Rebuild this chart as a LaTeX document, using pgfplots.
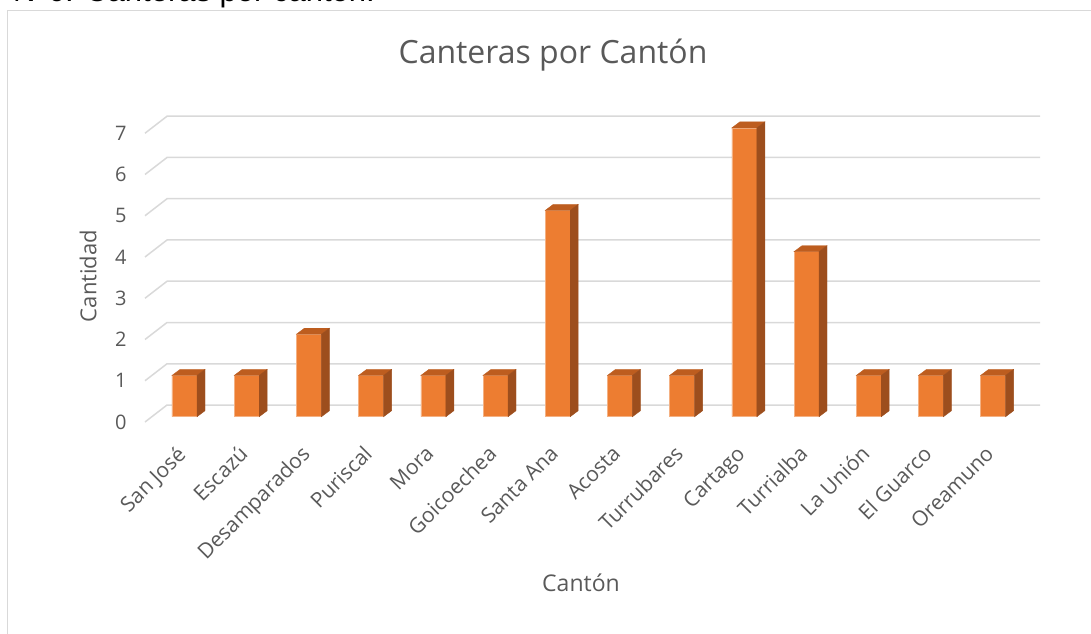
\documentclass[border=0pt]{standalone}
\usepackage{fontspec}
\setmainfont{Open Sans}
\newfontfamily\capfont{Liberation Sans}
\usepackage{pgfplots}
\pgfplotsset{compat=1.18}

\definecolor{txt}{HTML}{595959}
\definecolor{gridc}{HTML}{D9D9D9}
\definecolor{front}{HTML}{ED7D31}
\definecolor{topc}{HTML}{BD5D1F}
\definecolor{sidec}{HTML}{9D4E1D}
\definecolor{edgec}{HTML}{F4B183}

\pgfdeclareplotmark{empty}{}

\begin{document}
\begin{tikzpicture}[x=1pt,y=1pt]
\useasboundingbox (0,0) rectangle (1091,633);
% caption cut at the top of the page
\node[anchor=base west, inner sep=0pt, font=\capfont\fontsize{31}{36}\selectfont] at (13,631) {N°6. Canteras por cantón.};
% chart frame
\draw[gridc, line width=1.5pt] (7.5,622.5) -- (1100,622.5);
\draw[gridc, line width=1.5pt] (7.5,622.5) -- (7.5,-10);

\node[font=\fontsize{32}{38}\selectfont, text=txt] at (553,578) {Canteras por Cantón};
\node[font=\fontsize{22}{26}\selectfont, text=txt, rotate=90] at (88,357) {Cantidad};
\node[font=\fontsize{23}{27}\selectfont, text=txt] at (581,50) {Cantón};

\begin{axis}[
    at={(145pt,211pt)}, anchor=south west,
    scale only axis,
    width=895pt, height=308.5pt,
    xmin=-0.635, xmax=13.754,
    ymin=-0.128, ymax=7.35,
    clip=false,
    axis line style={draw=none},
    major tick length=0pt,
    xtick={0,...,13},
    xticklabels={San José, Escazú, Desamparados, Puriscal, Mora, Goicoechea, Santa Ana, Acosta, Turrubares, Cartago, Turrialba, La Unión, El Guarco, Oreamuno},
    xticklabel style={xshift=-9pt, yshift=-22pt, rotate=45, anchor=north east, inner sep=0pt,
        font=\fontsize{21}{25}\selectfont, text=txt},
    ytick={0,...,7},
    yticklabel shift=15pt,
    yticklabel style={yshift=-5.3pt, font=\fontsize{20}{24}\selectfont, text=txt},
    /pgf/number format/assume math mode=true,
]
% floor / wall gridlines
\addplot[gridc, line width=1.5pt] coordinates {(-0.635,-0.128) (-0.281,0.284) (13.754,0.284)};
\addplot[gridc, line width=1.5pt] coordinates {(-0.635,0.872) (-0.281,1.284) (13.754,1.284)};
\addplot[gridc, line width=1.5pt] coordinates {(-0.635,1.872) (-0.281,2.284) (13.754,2.284)};
\addplot[gridc, line width=1.5pt] coordinates {(-0.635,2.872) (-0.281,3.284) (13.754,3.284)};
\addplot[gridc, line width=1.5pt] coordinates {(-0.635,3.872) (-0.281,4.284) (13.754,4.284)};
\addplot[gridc, line width=1.5pt] coordinates {(-0.635,4.872) (-0.281,5.284) (13.754,5.284)};
\addplot[gridc, line width=1.5pt] coordinates {(-0.635,5.872) (-0.281,6.284) (13.754,6.284)};
\addplot[gridc, line width=1.5pt] coordinates {(-0.635,6.872) (-0.281,7.284) (13.754,7.284)};

% front faces
\addplot[ybar, bar width=25pt, fill=front, draw=edgec, line width=0.6pt] coordinates {
(0,1) (1,1) (2,2) (3,1) (4,1) (5,1) (6,5) (7,1) (8,1) (9,7) (10,4) (11,1) (12,1) (13,1)};

% top and side faces, drawn from the same values
\addplot[scatter, only marks, mark=empty,
    visualization depends on={rawy \as \val},
    scatter/@pre marker code/.code={
        \pgfmathsetmacro\h{41.25*\val}
        \fill[topc] (-12.5pt,0pt) -- (-4.5pt,6pt) -- (20.5pt,6pt) -- (12.5pt,0pt) -- cycle;
        \fill[sidec] (12.5pt,0pt) -- (20.5pt,6pt) -- (20.5pt,6pt-\h pt) -- (12.5pt,-\h pt) -- cycle;
    },
    scatter/@post marker code/.code={},
] coordinates {
(0,1) (1,1) (2,2) (3,1) (4,1) (5,1) (6,5) (7,1) (8,1) (9,7) (10,4) (11,1) (12,1) (13,1)};
\end{axis}
\end{tikzpicture}
\end{document}
